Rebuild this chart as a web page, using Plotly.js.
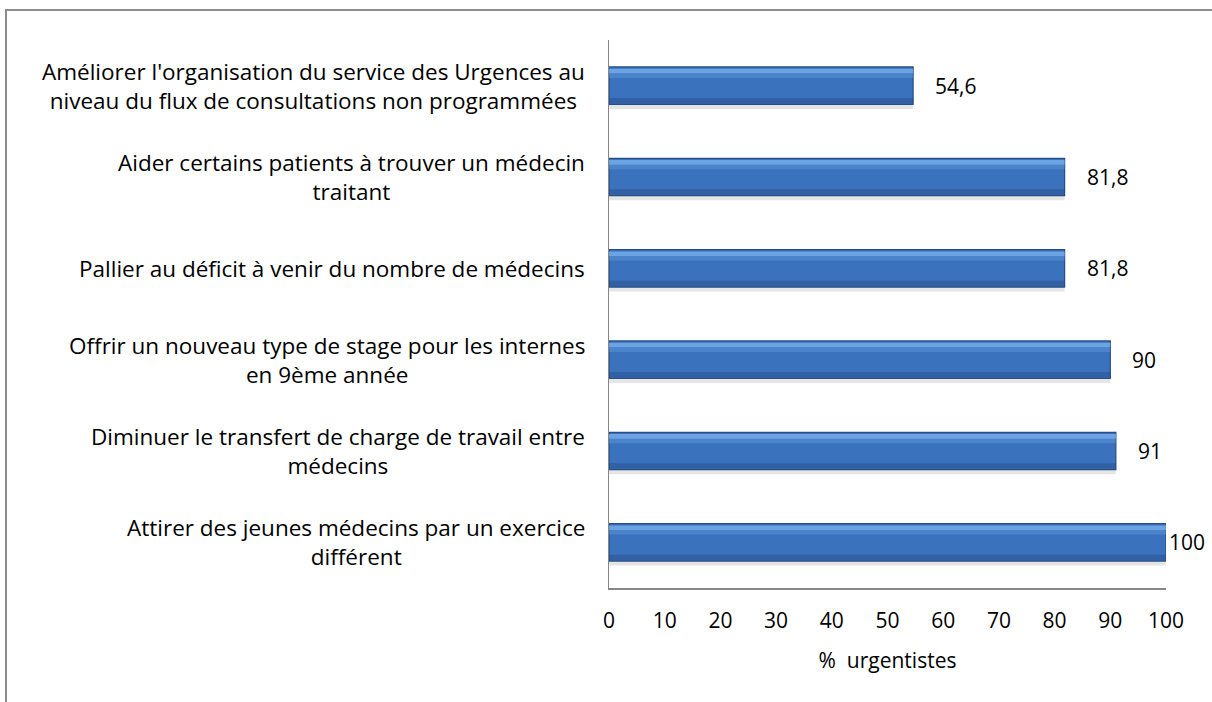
<!DOCTYPE html>
<html>
<head>
<meta charset="utf-8">
<script src="https://cdn.plot.ly/plotly-3.0.1.min.js"></script>
<style>
  html, body { margin: 0; padding: 0; background: #fff; }
  #wrap { position: relative; width: 1212px; height: 702px; overflow: hidden; }
  #frame { position: absolute; left: 5px; top: 9px; width: 1300px; height: 800px;
           border-left: 2px solid #8c8c8c; border-top: 2px solid #8c8c8c; pointer-events: none; }
  #chart { position: absolute; left: 0; top: 0; width: 1212px; height: 702px; }
</style>
</head>
<body>
<div id="wrap">
  <div id="chart"></div>
  <div id="frame"></div>
</div>
<script>
// Categories, top to bottom
const categories = [
  "Améliorer l'organisation du service des Urgences au<br>niveau du flux de consultations non programmées",
  "Aider certains patients à trouver un médecin<br>traitant",
  "Pallier au déficit à venir du nombre de médecins",
  "Offrir un nouveau type de stage pour les internes<br>en 9ème année",
  "Diminuer le transfert de charge de travail entre<br>médecins",
  "Attirer des jeunes médecins par un exercice<br>différent"
];
const values = [54.6, 81.8, 81.8, 90, 91, 100];
const xTickVals = [0, 10, 20, 30, 40, 50, 60, 70, 80, 90, 100];
const xTitle = "%  urgentistes";

const FONT = "'Open Sans', sans-serif";
const FS_CAT = 22.5;
const FS = 21;
const fmt = v => String(v).replace('.', ',');

const BW = 0.41;
const traces = [
  { // soft shadow
    type: 'bar', orientation: 'h', x: values, y: categories,
    width: 0.05, offset: BW / 2,
    marker: { color: 'rgba(0,0,0,0.10)', line: { width: 0 } },
    hoverinfo: 'none', showlegend: false
  },
  { // main bar
    type: 'bar', orientation: 'h', x: values, y: categories,
    width: BW, offset: -BW / 2,
    marker: { color: '#3b72bd', line: { color: '#274e85', width: 1.2 } },
    hoverinfo: 'none', showlegend: false
  },
  { // top highlight
    type: 'bar', orientation: 'h', x: values, y: categories,
    width: 0.05, offset: -BW / 2 + 0.02,
    marker: { color: 'rgba(125,180,240,0.75)', line: { width: 0 } },
    hoverinfo: 'none', showlegend: false
  },
  { // top highlight fade
    type: 'bar', orientation: 'h', x: values, y: categories,
    width: 0.05, offset: -BW / 2 + 0.07,
    marker: { color: 'rgba(110,165,230,0.35)', line: { width: 0 } },
    hoverinfo: 'none', showlegend: false
  },
  { // bottom shade
    type: 'bar', orientation: 'h', x: values, y: categories,
    width: 0.06, offset: BW / 2 - 0.07,
    marker: { color: 'rgba(25,55,105,0.30)', line: { width: 0 } },
    hoverinfo: 'none', showlegend: false
  }
];

const annotations = [];
categories.forEach((c, i) => {
  annotations.push({
    xref: 'paper', yref: 'y', x: 0, y: c,
    xanchor: 'right', yanchor: 'middle', xshift: -22,
    align: 'center', showarrow: false,
    text: c, font: { family: FONT, size: FS_CAT, color: '#000' }
  });
  annotations.push({
    xref: 'x', yref: 'y', x: values[i], y: c,
    xanchor: 'left', yanchor: 'middle', xshift: values[i] >= 100 ? 1 : 20,
    showarrow: false,
    text: fmt(values[i]), font: { family: FONT, size: FS, color: '#000' }
  });
});

const layout = {
  width: 1212, height: 702,
  margin: { l: 609, r: 46, t: 40, b: 114 },
  paper_bgcolor: 'rgba(0,0,0,0)', plot_bgcolor: 'rgba(0,0,0,0)',
  barmode: 'overlay',
  font: { family: FONT, size: FS, color: '#000' },
  xaxis: {
    range: [0, 100], tickvals: xTickVals, ticktext: xTickVals.map(String),
    showgrid: false, zeroline: false,
    showline: true, linecolor: '#868686', linewidth: 1.5,
    ticks: 'outside', ticklen: 13, tickcolor: 'rgba(0,0,0,0)',
    tickfont: { family: FONT, size: FS, color: '#000' },
    title: { text: xTitle, font: { family: FONT, size: FS, color: '#000' }, standoff: 20 },
    fixedrange: true
  },
  yaxis: {
    type: 'category', autorange: 'reversed',
    showticklabels: false, showgrid: false, zeroline: false,
    showline: true, linecolor: '#868686', linewidth: 1.5,
    ticks: '', fixedrange: true
  },
  annotations: annotations
};

Plotly.newPlot('chart', traces, layout, { displayModeBar: false, staticPlot: true });
</script>
</body>
</html>
